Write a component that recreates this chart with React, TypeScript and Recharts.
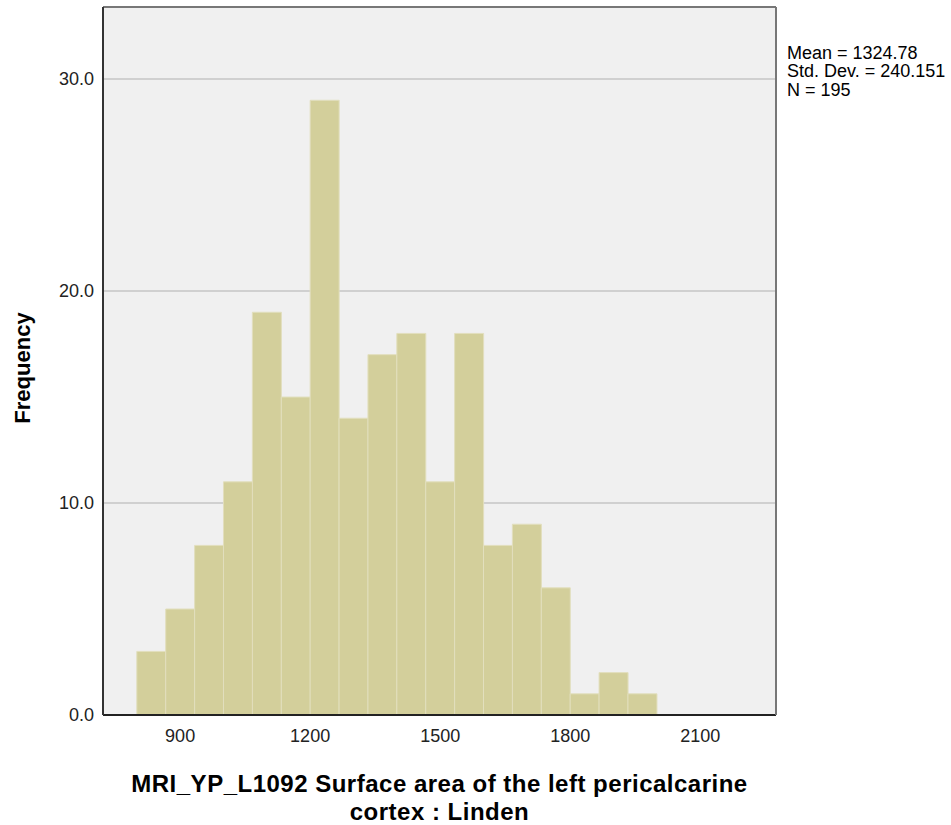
import React from 'react';
import { ComposedChart, Bar, XAxis, YAxis, CartesianGrid } from 'recharts';

const binCenters = [833.3, 900, 966.7, 1033.3, 1100, 1166.7, 1233.3, 1300, 1366.7, 1433.3, 1500, 1566.7, 1633.3, 1700, 1766.7, 1833.3, 1900, 1966.7];
const frequencies = [3, 5, 8, 11, 19, 15, 29, 14, 17, 18, 11, 18, 8, 9, 6, 1, 2, 1];
const xTicks = [900, 1200, 1500, 1800, 2100];
const yTicks = [0, 10, 20, 30];
const statsLines = ['Mean = 1324.78', 'Std. Dev. = 240.151', 'N = 195'];
const xTitleLines = ['MRI_YP_L1092 Surface area of the left pericalcarine', 'cortex : Linden'];
const yTitle = 'Frequency';

const data = binCenters.map((c, i) => ({ x: c, freq: frequencies[i] }));

const FONT = '"Liberation Sans", Arial, sans-serif';

const XTitle = (props: any) => {
  const vb = props.viewBox || {};
  const cx = vb.x + vb.width / 2;
  return (
    <text x={cx} y={vb.y + 77} textAnchor="middle" fontFamily={FONT} fontWeight="bold" fontSize={24} letterSpacing={0.5} fill="#000">
      <tspan x={cx} dy={0}>{xTitleLines[0]}</tspan>
      <tspan x={cx} dy={27.5}>{xTitleLines[1]}</tspan>
    </text>
  );
};

const YTitle = (props: any) => {
  const vb = props.viewBox || {};
  const x = vb.x + 22;
  const y = vb.y + vb.height / 2 + 7;
  return (
    <text x={x} y={y} transform={`rotate(-90 ${x} ${y})`} textAnchor="middle" dominantBaseline="central" fontFamily={FONT} fontWeight="bold" fontSize={22} fill="#000">
      {yTitle}
    </text>
  );
};

const Stats = (props: any) => {
  const vb = props.viewBox || {};
  const x = vb.x + 11;
  return (
    <text x={x} y={59} fontFamily={FONT} fontSize={18} fill="#000">
      {statsLines.map((s, i) => (
        <tspan key={i} x={x} dy={i === 0 ? 0 : 18.4}>{s}</tspan>
      ))}
    </text>
  );
};

export default function App() {
  return (
    <div style={{ position: 'absolute', left: 0, top: 0, width: 951, height: 825, background: '#fff' }}>
      <ComposedChart
        width={951}
        height={825}
        data={data}
        margin={{ top: 6, right: 174, bottom: 0, left: 0 }}
        barCategoryGap={0}
        barGap={0}
      >
        <CartesianGrid vertical={false} stroke="#c6c6c6" strokeWidth={1.5} fill="#f0f0f0" />
        <XAxis
          dataKey="x"
          type="number"
          domain={[722, 2275]}
          allowDataOverflow
          ticks={xTicks}
          height={110}
          tickLine={false}
          tickSize={6}
          tickMargin={8}
          axisLine={{ stroke: '#222', strokeWidth: 2 }}
          tick={{ fill: '#222', fontSize: 18, fontFamily: FONT }}
          label={<XTitle />}
        />
        <XAxis
          xAxisId="top"
          orientation="top"
          type="number"
          domain={[722, 2275]}
          height={1}
          tick={false}
          tickLine={false}
          axisLine={{ stroke: '#777', strokeWidth: 2 }}
        />
        <YAxis
          type="number"
          domain={[0, 33.4]}
          allowDataOverflow
          ticks={yTicks}
          width={103}
          tickLine={false}
          tickSize={0}
          tickMargin={9}
          tickFormatter={(v: number) => v.toFixed(1)}
          axisLine={{ stroke: '#333', strokeWidth: 2 }}
          tick={{ fill: '#222', fontSize: 18, fontFamily: FONT }}
          label={<YTitle />}
        />
        <YAxis
          yAxisId="right"
          orientation="right"
          type="number"
          domain={[0, 33.4]}
          width={1}
          tick={false}
          tickLine={false}
          axisLine={{ stroke: '#777', strokeWidth: 2 }}
          label={<Stats />}
        />
        <Bar dataKey="freq" fill="#d3cf9b" stroke="#e2dfbe" strokeWidth={1} isAnimationActive={false} />
      </ComposedChart>
    </div>
  );
}
